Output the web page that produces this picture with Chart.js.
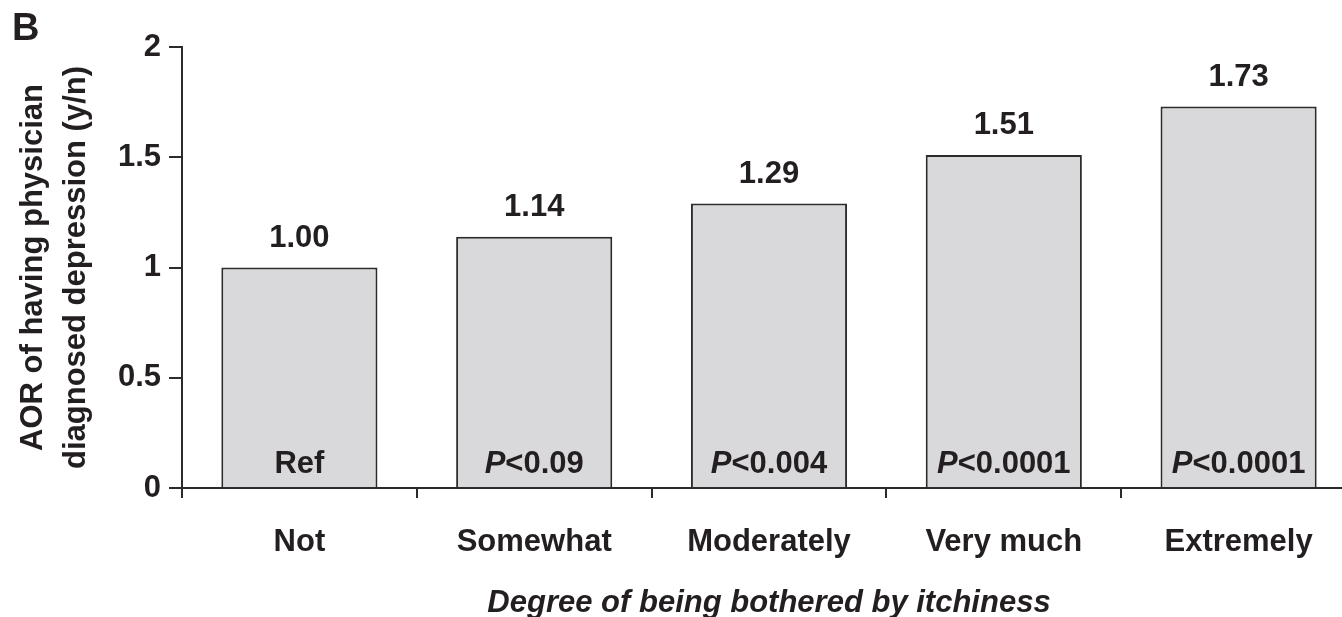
<!DOCTYPE html>
<html>
<head>
<meta charset="utf-8">
<script src="https://cdn.jsdelivr.net/npm/chart.js@4/dist/chart.umd.min.js"></script>
<style>
  html, body { margin: 0; padding: 0; overflow: hidden; background: #fff; }
  #wrap { width: 1360px; height: 617px; }
</style>
</head>
<body>
<div id="wrap"><canvas id="myChart" width="1360" height="617"></canvas></div>
<script>
const categories = ['Not', 'Somewhat', 'Moderately', 'Very much', 'Extremely'];
const aorValues = [1.00, 1.14, 1.29, 1.51, 1.73];
const aorLabels = ['1.00', '1.14', '1.29', '1.51', '1.73'];
const pValues = ['Ref', '0.09', '0.004', '0.0001', '0.0001'];
const yTicks = [0, 0.5, 1, 1.5, 2];

const fontFamily = "'Liberation Sans', Arial, Helvetica, sans-serif";
const textColor = '#231f20';
const lineColor = '#2b2b2b';

// value labels above bars, P values inside, panel letter
const barText = {
  id: 'barText',
  afterDatasetsDraw(chart) {
    const ctx = chart.ctx;
    const meta = chart.getDatasetMeta(0);
    const bottom = chart.chartArea.bottom;
    ctx.save();
    ctx.fillStyle = textColor;
    ctx.textBaseline = 'alphabetic';
    meta.data.forEach((bar, i) => {
      ctx.font = 'bold 31px ' + fontFamily;
      ctx.textAlign = 'center';
      ctx.fillText(aorLabels[i], bar.x, bar.y - 21);

      const yP = bottom - 15;
      if (pValues[i] === 'Ref') {
        ctx.fillText('Ref', bar.x, yP);
      } else {
        const rest = '<' + pValues[i];
        ctx.font = 'italic bold 31px ' + fontFamily;
        const wP = ctx.measureText('P').width;
        ctx.font = 'bold 31px ' + fontFamily;
        const wR = ctx.measureText(rest).width;
        const x = bar.x - (wP + wR) / 2;
        ctx.textAlign = 'left';
        ctx.font = 'italic bold 31px ' + fontFamily;
        ctx.fillText('P', x, yP);
        ctx.font = 'bold 31px ' + fontFamily;
        ctx.fillText(rest, x + wP, yP);
      }
    });
    ctx.font = 'bold 38px ' + fontFamily;
    ctx.textAlign = 'left';
    ctx.fillText('B', 12, 40);
    ctx.restore();
  }
};

new Chart('myChart', {
  type: 'bar',
  data: {
    labels: categories,
    datasets: [{
      data: aorValues,
      backgroundColor: '#d9d9db',
      borderColor: lineColor,
      borderWidth: 2,
      categoryPercentage: 1,
      barPercentage: 0.665
    }]
  },
  options: {
    responsive: false,
    animation: false,
    devicePixelRatio: 1,
    layout: { padding: { top: 47, right: 4, bottom: 0, left: 0 } },
    plugins: {
      legend: { display: false },
      tooltip: { enabled: false }
    },
    scales: {
      x: {
        grid: {
          offset: true,
          drawOnChartArea: false,
          drawTicks: true,
          tickLength: 10,
          color: lineColor,
          lineWidth: 2
        },
        border: { display: true, color: lineColor, width: 2 },
        ticks: {
          color: textColor,
          padding: 26,
          font: { family: fontFamily, size: 31, weight: 'bold' }
        },
        title: {
          display: true,
          text: 'Degree of being bothered by itchiness',
          color: textColor,
          padding: { top: 0, bottom: 0 },
          font: { family: fontFamily, size: 31, weight: 'bold', style: 'italic', lineHeight: 0.9 }
        },
        afterFit(scale) { scale.height = 129; }
      },
      y: {
        min: 0,
        max: 2,
        afterBuildTicks(scale) { scale.ticks = yTicks.map(v => ({ value: v })); },
        grid: {
          drawOnChartArea: false,
          drawTicks: true,
          tickLength: 13,
          color: lineColor,
          lineWidth: 2
        },
        border: { display: true, color: lineColor, width: 2 },
        ticks: {
          color: textColor,
          padding: 8,
          font: { family: fontFamily, size: 31, weight: 'bold' },
          callback: (v) => String(v)
        },
        title: {
          display: true,
          text: ['AOR of having physician', 'diagnosed depression (y/n)'],
          color: textColor,
          padding: { top: 12, bottom: 0 },
          font: { family: fontFamily, size: 31, weight: 'bold', lineHeight: 1.39 }
        },
        afterFit(scale) { scale.width = 182; }
      }
    }
  },
  plugins: [barText]
});
</script>
</body>
</html>
